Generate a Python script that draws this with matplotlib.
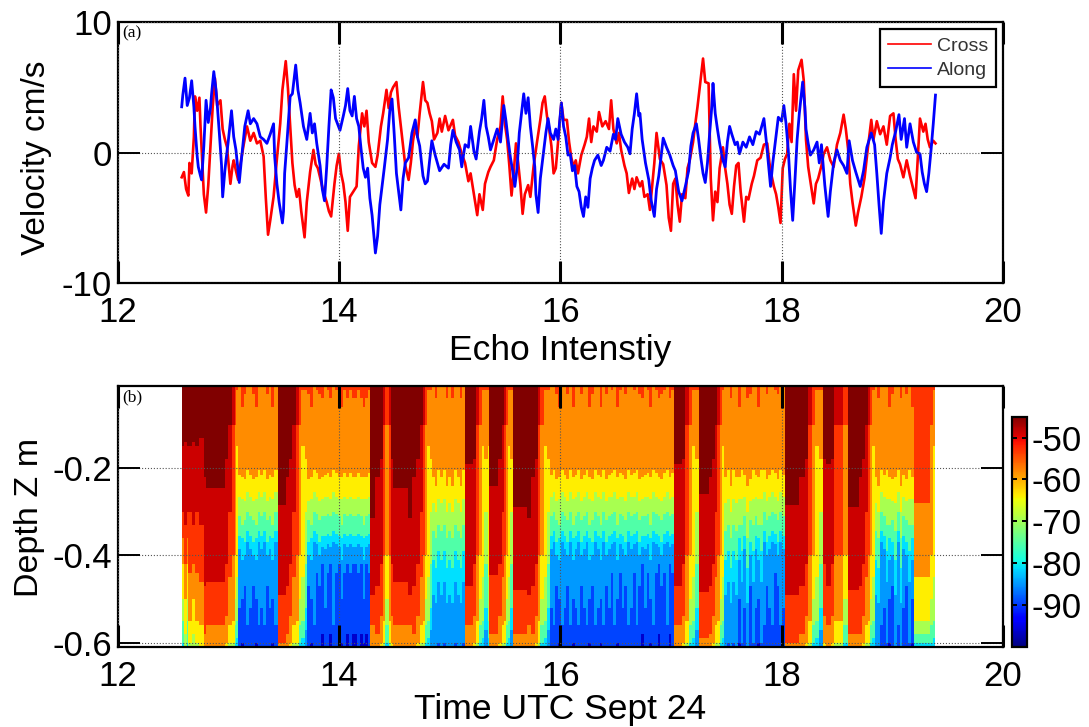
import matplotlib
matplotlib.use('Agg')
import matplotlib.pyplot as plt
from matplotlib.cm import ScalarMappable
from matplotlib.colors import Normalize

plt.rcParams['font.family'] = ['Liberation Sans', 'DejaVu Sans']
plt.rcParams['axes.unicode_minus'] = False

# panel (a), hours and cm/s
cross_t = [12.58,12.60,12.62,12.64,12.65,12.67,12.69,12.70,12.72,12.74,
           12.75,12.77,12.78,12.80,12.82,12.84,12.86,12.88,12.90,12.93,
           12.95,12.97,12.99,13.02,13.04,13.05,13.07,13.09,13.11,13.14,
           13.17,13.20,13.23,13.26,13.29,13.32,13.34,13.36,13.38,13.41,
           13.44,13.47,13.49,13.52,13.54,13.56,13.58,13.60,13.62,13.64,
           13.66,13.69,13.71,13.74,13.77,13.79,13.81,13.83,13.86,13.89,
           13.91,13.93,13.96,13.98,14.00,14.02,14.04,14.06,14.08,14.10,
           14.13,14.16,14.18,14.21,14.23,14.25,14.27,14.30,14.33,14.35,
           14.38,14.40,14.43,14.45,14.47,14.49,14.52,14.54,14.56,14.58,
           14.60,14.63,14.65,14.67,14.69,14.71,14.73,14.76,14.78,14.80,
           14.82,14.84,14.86,14.89,14.91,14.93,14.96,14.99,15.03,15.05,
           15.08,15.11,15.14,15.17,15.19,15.22,15.25,15.27,15.30,15.32,
           15.35,15.37,15.40,15.43,15.46,15.48,15.50,15.52,15.54,15.56,
           15.58,15.60,15.62,15.64,15.66,15.68,15.71,15.73,15.76,15.79,
           15.82,15.84,15.86,15.88,15.90,15.92,15.94,15.96,15.98,16.01,
           16.03,16.06,16.08,16.10,16.12,16.14,16.16,16.19,16.22,16.24,
           16.26,16.28,16.30,16.33,16.35,16.38,16.41,16.44,16.46,16.48,
           16.51,16.53,16.55,16.58,16.60,16.62,16.65,16.67,16.69,16.72,
           16.74,16.76,16.79,16.81,16.83,16.85,16.87,16.90,16.93,16.96,
           16.98,17.00,17.02,17.04,17.06,17.08,17.10,17.13,17.15,17.17,
           17.20,17.22,17.24,17.26,17.29,17.31,17.34,17.35,17.36,17.38,
           17.40,17.42,17.44,17.47,17.49,17.51,17.53,17.55,17.57,17.59,
           17.61,17.63,17.66,17.68,17.70,17.73,17.75,17.78,17.81,17.84,
           17.87,17.89,17.91,17.93,17.95,17.97,17.99,18.01,18.03,18.05,
           18.07,18.09,18.11,18.13,18.15,18.18,18.20,18.22,18.24,18.26,
           18.29,18.31,18.33,18.36,18.38,18.41,18.44,18.47,18.50,18.53,
           18.56,18.58,18.60,18.62,18.64,18.67,18.69,18.72,18.75,18.78,
           18.81,18.83,18.86,18.89,18.92,18.95,18.98,19.01,19.03,19.05,
           19.07,19.10,19.13,19.16,19.19,19.21,19.23,19.25,19.28,19.30,
           19.32,19.34,19.37,19.39]
cross_v = [-1.9,-1.5,-2.8,-3.3,-0.8,-1.6,1.2,4.3,3.2,4.2,
           2.0,-1.5,-3.2,-4.6,-2.5,0.5,3.5,5.7,3.6,4.0,
           1.8,1.0,0.4,-2.4,-1.0,-0.6,-1.4,-2.1,-0.9,0.6,
           2.0,0.9,1.5,0.7,0.9,-0.3,-3.5,-6.3,-5.2,-3.4,
           -0.5,2.2,4.8,7.0,4.9,2.0,-0.8,-2.5,-3.4,-2.8,
           -4.5,-6.5,-3.8,-1.5,0.2,-0.9,-1.2,-1.9,-3.0,-3.8,
           -4.5,-4.9,-2.4,-1.0,-0.1,-1.6,-2.4,-3.8,-6.0,-3.4,
           -3.0,-2.6,0.5,3.0,2.0,3.2,0.8,-0.8,-1.1,-0.2,
           2.0,3.0,4.8,3.4,4.6,5.0,5.4,3.5,2.0,0.5,
           -1.0,-2.1,-0.8,0.9,2.0,1.2,3.0,5.4,4.0,3.8,
           3.0,2.4,1.0,1.5,2.6,1.6,2.8,1.7,2.5,1.3,
           0.8,-0.1,-0.8,-2.2,-1.6,-3.2,-4.8,-3.2,-4.4,-2.4,
           -1.5,-1.1,-0.6,1.0,2.0,4.3,2.2,1.0,-1.0,-3.3,
           -1.5,0.7,-0.8,-2.5,-4.7,-3.2,-2.5,-3.4,-1.0,0.8,
           2.5,3.8,4.3,2.8,1.8,0.5,-1.6,-1.2,0.8,3.8,
           2.5,2.5,0.8,-0.4,-1.1,-0.6,-1.6,-0.2,0.6,1.2,
           2.6,0.8,2.0,1.6,3.1,2.0,2.4,1.8,4.0,1.8,
           0.7,1.5,0.2,-1.0,-1.6,-3.1,-2.0,-2.8,-1.9,-2.6,
           -2.2,-3.4,-3.2,-4.4,-2.6,-0.8,1.5,-0.5,-0.9,-2.5,
           -5.0,-6.0,-2.4,-2.0,-4.0,-5.3,-3.2,-3.5,-1.2,-0.6,
           0.8,2.2,3.5,5.0,7.2,5.4,5.3,1.5,-2.0,-5.2,
           -3.0,-3.8,-1.2,0.4,-1.2,-2.4,-4.0,-4.7,-2.6,-1.0,
           -0.8,-3.0,-5.3,-3.4,-3.6,-2.4,-1.8,-0.6,-0.4,0.6,
           0.7,-0.8,-1.8,-2.6,-3.2,-4.2,-5.4,-1.2,-0.5,-0.1,
           2.2,0.8,6.0,3.2,6.3,7.1,5.5,1.0,-1.1,-2.2,
           -3.9,-2.4,-2.0,-1.0,-0.1,0.4,-0.6,-1.1,0.6,1.5,
           2.9,1.8,0.3,-2.4,-3.8,-5.6,-4.6,-3.4,-1.9,0.4,
           2.5,1.0,2.4,1.4,2.0,0.6,2.8,3.0,1.0,-0.5,
           -0.9,-1.9,-0.6,-1.8,-2.8,-3.5,-0.5,2.6,1.6,2.2,
           1.0,0.4,0.9,0.7]

along_t = [12.58,12.59,12.61,12.63,12.65,12.67,12.69,12.70,12.72,12.73,
           12.75,12.76,12.78,12.80,12.82,12.84,12.85,12.87,12.89,12.90,
           12.92,12.94,12.95,12.97,12.98,13.00,13.03,13.05,13.07,13.10,
           13.12,13.15,13.18,13.20,13.23,13.26,13.29,13.32,13.35,13.38,
           13.41,13.42,13.44,13.46,13.49,13.50,13.51,13.53,13.56,13.58,
           13.61,13.63,13.65,13.68,13.71,13.74,13.76,13.78,13.80,13.83,
           13.85,13.87,13.89,13.91,13.93,13.95,13.97,14.01,14.04,14.06,
           14.08,14.10,14.12,14.14,14.16,14.18,14.20,14.22,14.24,14.26,
           14.28,14.30,14.32,14.33,14.35,14.37,14.39,14.41,14.44,14.46,
           14.48,14.50,14.52,14.54,14.56,14.58,14.60,14.63,14.66,14.69,
           14.71,14.73,14.76,14.78,14.80,14.82,14.84,14.87,14.91,14.95,
           14.99,15.01,15.03,15.06,15.09,15.11,15.14,15.17,15.19,15.22,
           15.24,15.27,15.29,15.31,15.33,15.35,15.37,15.40,15.43,15.46,
           15.49,15.51,15.53,15.55,15.57,15.59,15.61,15.63,15.65,15.67,
           15.69,15.71,15.73,15.75,15.77,15.78,15.80,15.82,15.84,15.87,
           15.89,15.91,15.94,15.96,15.98,16.01,16.03,16.05,16.07,16.09,
           16.11,16.13,16.15,16.17,16.19,16.21,16.23,16.25,16.27,16.29,
           16.31,16.34,16.37,16.39,16.42,16.45,16.48,16.50,16.52,16.55,
           16.58,16.61,16.63,16.65,16.67,16.69,16.71,16.72,16.74,16.77,
           16.80,16.82,16.85,16.87,16.89,16.91,16.93,16.96,16.99,17.02,
           17.04,17.07,17.10,17.13,17.16,17.18,17.20,17.23,17.25,17.27,
           17.29,17.31,17.33,17.35,17.37,17.38,17.40,17.42,17.44,17.47,
           17.49,17.51,17.53,17.55,17.58,17.60,17.62,17.65,17.68,17.71,
           17.74,17.77,17.80,17.84,17.86,17.88,17.90,17.92,17.94,17.97,
           18.00,18.02,18.04,18.06,18.08,18.10,18.12,18.14,18.16,18.19,
           18.21,18.22,18.24,18.26,18.29,18.32,18.34,18.36,18.39,18.42,
           18.44,18.47,18.50,18.53,18.56,18.59,18.61,18.64,18.67,18.71,
           18.74,18.77,18.81,18.84,18.86,18.88,18.90,18.92,18.95,18.98,
           19.00,19.03,19.06,19.08,19.11,19.13,19.16,19.19,19.22,19.25,
           19.27,19.29,19.31,19.33,19.35,19.37,19.39]
along_v = [3.5,4.4,5.7,3.6,4.2,5.5,3.5,2.0,-0.3,-1.1,
           -1.8,-2.1,0.5,4.0,2.3,3.4,4.5,6.2,4.8,3.8,
           1.5,-1.0,-3.4,-1.4,-0.6,0.8,3.2,1.2,0.2,-2.3,
           -0.5,2.0,3.2,2.2,2.6,2.2,1.2,1.0,0.7,1.4,
           2.2,-0.3,-2.4,-3.8,-5.4,-4.5,-1.6,0.7,4.3,4.5,
           6.7,4.8,3.8,2.0,1.0,3.0,1.5,2.2,0.7,-1.0,
           -2.8,-3.7,-1.1,2.0,4.8,4.2,2.6,1.7,2.8,3.6,
           4.9,3.2,2.8,4.3,2.6,2.0,0.3,-1.2,-1.9,-1.2,
           -3.5,-4.8,-6.8,-7.7,-6.4,-4.0,-2.6,-1.2,1.0,3.2,
           4.1,1.4,-1.6,-3.0,-4.4,-2.0,-0.8,-0.4,1.5,2.5,
           1.2,0.5,-1.8,-2.4,-2.2,-0.6,0.9,-0.2,-1.4,-0.9,
           -1.2,0.6,1.7,0.8,0.2,-1.1,0.6,0.4,2.0,0.1,
           -0.5,1.6,2.6,4.0,2.0,1.2,0.2,1.0,1.8,0.8,
           3.6,2.4,0.9,-0.4,-1.4,-2.6,-1.2,1.5,3.0,4.5,
           3.0,4.2,2.0,0.5,-1.1,-3.2,-4.6,-2.0,-0.6,1.5,
           2.6,1.5,1.0,1.8,1.0,3.8,2.0,1.2,-0.2,-0.1,
           -1.4,-1.0,-2.6,-3.0,-4.2,-4.9,-3.4,-4.2,-2.0,-1.2,
           -0.6,-0.2,-1.0,-0.6,0.4,0.1,1.4,1.0,2.6,1.4,
           0.8,0.4,-0.1,1.8,3.0,4.5,2.8,3.0,1.0,-0.8,
           -2.1,-3.6,-4.9,-2.8,-1.8,-0.4,1.1,0.4,-0.2,-1.0,
           -1.4,-3.0,-3.7,-2.6,-1.4,0.5,1.5,2.2,1.0,-0.4,
           -1.6,-2.3,-0.8,1.5,3.6,5.3,3.0,1.8,0.7,-0.6,
           -1.1,0.8,2.0,1.4,0.6,0.8,-0.1,0.8,0.4,1.2,
           0.6,1.6,1.4,2.6,1.0,-0.8,-2.6,-0.8,0.6,2.7,
           2.4,3.6,2.2,0.2,-2.8,-5.2,-2.2,1.0,3.0,5.4,
           3.5,1.8,0.7,-0.2,0.2,0.8,-0.8,0.6,-2.5,-4.9,
           -3.0,-0.8,0.2,-0.6,-1.0,-1.6,0.9,-0.6,-1.5,-2.6,
           -1.4,0.4,1.5,0.6,-1.6,-4.0,-6.2,-3.8,-1.6,-0.4,
           0.6,1.6,2.9,1.0,2.6,0.4,2.2,0.8,0.0,-0.1,
           -1.5,-2.4,-3.0,-1.6,0.2,2.2,4.4]

# panel (b): colour of each 5 dB band, top (strong echo) to bottom (weak echo)
band_colors = ['#800000', '#cc0000', '#ff3300', '#ff8c00', '#ffee00', '#a8ff50',
               '#50ffa8', '#00e0ff', '#0099ff', '#0044ff', '#0000cc']

calm1 = [0, 0, -0.01, -0.215, -0.265, -0.31, -0.355, -0.385, -0.52, -0.62]
calm2 = [0, 0, -0.03, -0.225, -0.275, -0.32, -0.37, -0.40, -0.47, -0.62]
calm3 = [0, 0, 0, -0.205, -0.255, -0.30, -0.345, -0.37, -0.56, -0.62]
calm4 = [0, 0, -0.06, -0.22, -0.27, -0.33, -0.36, -0.41, -0.50, -0.60]
deep1 = [0, 0, -0.02, -0.21, -0.265, -0.305, -0.35, -0.375, -0.44, -0.62]
deep2 = [0, 0, -0.04, -0.22, -0.27, -0.31, -0.355, -0.38, -0.42, -0.58]
pale1 = [0, 0, -0.01, -0.22, -0.28, -0.345, -0.41, -0.49, -0.62, -0.62]
pale2 = [0, 0, -0.04, -0.24, -0.30, -0.36, -0.43, -0.51, -0.62, -0.62]
pale3 = [0, 0, 0, -0.205, -0.27, -0.33, -0.39, -0.46, -0.60, -0.62]
first1 = [-0.15, -0.30, -0.36, -0.42, -0.50, -0.55, -0.60, -0.61, -0.62, -0.62]
first2 = [-0.14, -0.33, -0.42, -0.50, -0.58, -0.62, -0.62, -0.62, -0.62, -0.62]
first3 = [-0.15, -0.30, -0.44, -0.55, -0.60, -0.62, -0.62, -0.62, -0.62, -0.62]
first4 = [-0.13, -0.33, -0.46, -0.56, -0.62, -0.62, -0.62, -0.62, -0.62, -0.62]
plume_a = [-0.245, -0.46, -0.56, -0.62, -0.62, -0.62, -0.62, -0.62, -0.62, -0.62]
plume_b = [-0.284, -0.49, -0.60, -0.62, -0.62, -0.62, -0.62, -0.62, -0.62, -0.62]
plume_c = [-0.315, -0.49, -0.56, -0.62, -0.62, -0.62, -0.62, -0.62, -0.62, -0.62]
plume_d = [-0.19, -0.47, -0.56, -0.61, -0.62, -0.62, -0.62, -0.62, -0.62, -0.62]
plume_e = [-0.24, -0.445, -0.58, -0.62, -0.62, -0.62, -0.62, -0.62, -0.62, -0.62]
plume_f = [-0.29, -0.48, -0.58, -0.62, -0.62, -0.62, -0.62, -0.62, -0.62, -0.62]
plume_g = [-0.26, -0.485, -0.59, -0.62, -0.62, -0.62, -0.62, -0.62, -0.62, -0.62]
side1 = [-0.10, -0.30, -0.45, -0.56, -0.60, -0.62, -0.62, -0.62, -0.62, -0.62]
side2 = [-0.18, -0.42, -0.54, -0.60, -0.62, -0.62, -0.62, -0.62, -0.62, -0.62]
side3 = [-0.22, -0.47, -0.58, -0.62, -0.62, -0.62, -0.62, -0.62, -0.62, -0.62]
edge_ro = [0, -0.10, -0.40, -0.55, -0.60, -0.62, -0.62, -0.62, -0.62, -0.62]
edge_or = [0, 0, -0.10, -0.40, -0.50, -0.56, -0.60, -0.62, -0.62, -0.62]
edge_yel = [0, 0, -0.02, -0.15, -0.45, -0.55, -0.59, -0.61, -0.62, -0.62]
edge_gr = [0, 0, -0.02, -0.18, -0.30, -0.42, -0.52, -0.57, -0.62, -0.62]
tail = [0, 0, -0.28, -0.45, -0.55, -0.58, -0.60, -0.62, -0.62, -0.62]

# one column starts at each time and keeps its profile up to the next one
column_t = [12.585, 12.60, 12.625, 12.64, 12.67, 12.70, 12.74, 12.78, 12.80, 12.97, 13.00, 13.03, 13.06, 13.075,
            13.09, 13.115, 13.14, 13.165, 13.19, 13.215, 13.24, 13.265, 13.29, 13.315, 13.34, 13.365, 13.39, 13.415,
            13.45, 13.52, 13.55, 13.58, 13.61, 13.64, 13.66, 13.69,
            13.715, 13.74, 13.765, 13.79, 13.815, 13.84, 13.865, 13.89, 13.915, 13.94, 13.965, 13.99,
            14.015, 14.04, 14.065, 14.09, 14.115, 14.14, 14.165, 14.19, 14.215, 14.24, 14.265,
            14.28, 14.33, 14.37, 14.40, 14.42, 14.45, 14.47, 14.49, 14.62, 14.66, 14.70, 14.73, 14.76, 14.78, 14.80, 14.82,
            14.84, 14.865, 14.89, 14.915, 14.94, 14.965, 14.99, 15.015, 15.04, 15.065, 15.09, 15.115,
            15.14, 15.21, 15.24, 15.27, 15.29, 15.31, 15.35,
            15.36, 15.44, 15.47, 15.49, 15.51, 15.53, 15.55,
            15.57, 15.70, 15.74, 15.77, 15.80, 15.82, 15.85, 15.88,
            15.905, 15.93, 15.955, 15.98, 16.005, 16.03, 16.055, 16.08, 16.105, 16.13, 16.155, 16.18, 16.205, 16.23, 16.255,
            16.28, 16.305, 16.33, 16.355, 16.38, 16.405, 16.43, 16.455, 16.48, 16.505, 16.53, 16.555, 16.58, 16.605, 16.63,
            16.655, 16.68, 16.705, 16.73, 16.755, 16.78, 16.805, 16.83, 16.855, 16.88, 16.905, 16.93, 16.955, 16.98, 17.005,
            17.03, 17.10, 17.13, 17.16, 17.19, 17.22, 17.25, 17.34, 17.37, 17.40, 17.42, 17.44, 17.46,
            17.48, 17.505, 17.53, 17.555, 17.58, 17.605, 17.63, 17.655, 17.68, 17.705, 17.73,
            17.755, 17.78, 17.805, 17.83, 17.855, 17.88, 17.905, 17.93, 17.955, 17.98, 18.005,
            18.03, 18.16, 18.21, 18.24, 18.27, 18.30, 18.34,
            18.37, 18.40, 18.45, 18.47, 18.51, 18.55,
            18.60, 18.70, 18.73, 18.75, 18.78, 18.80, 18.82,
            18.84, 18.865, 18.89, 18.915, 18.94, 18.965, 18.99, 19.015, 19.04, 19.065, 19.09, 19.115, 19.14, 19.165,
            19.20, 19.34, 19.37]
column_p = [first1, first2, first1, first3, first2, first3, first4, side3, plume_a, side2, side1, edge_ro, edge_or, edge_yel,
            calm1, calm4, calm2, calm3, calm1, calm2, calm4, calm3, calm1, calm3, calm2, calm1, calm4, calm3,
            plume_b, side3, side2, side1, edge_ro, edge_or, edge_yel, edge_gr,
            calm2, calm4, calm3, deep1, calm2, deep2, calm1, deep1, deep2, calm3, deep1, deep2,
            calm4, deep1, deep2, deep1, deep2, deep2, deep1, deep2, calm4, deep2, deep1,
            plume_c, side3, side2, edge_ro, edge_or, edge_ro, side2, plume_a, plume_c, side3, side2, side1, edge_ro, edge_or, edge_yel, edge_gr,
            pale1, pale2, pale3, pale1, pale3, pale2, pale1, pale2, pale3, pale1, pale2, pale3,
            plume_d, side2, edge_ro, edge_or, edge_yel, edge_gr, edge_yel,
            plume_e, side2, side1, edge_ro, edge_or, edge_yel, edge_gr,
            plume_f, plume_c, side3, side2, edge_ro, edge_or, edge_yel, edge_gr,
            calm1, calm3, calm2, calm4, calm3, calm1, calm2, calm3, calm4, calm1, calm3, calm2, calm1, calm3, calm4,
            calm2, calm3, calm1, calm4, calm3, calm2, calm1, deep1, calm3, calm4, deep1, calm1, calm2, calm3, calm1,
            deep1, calm3, calm2, deep2, calm1, deep1, calm4, calm3, deep1, deep2, calm2, deep1, calm3, deep2, deep1,
            plume_d, side2, edge_ro, edge_or, edge_yel, edge_gr, plume_g, side3, side2, side1, edge_ro, edge_or, edge_yel,
            pale1, pale3, pale2, pale3, pale1, calm4, pale3, calm1, pale2, calm2, pale3,
            calm1, calm4, pale3, calm3, calm2, calm1, calm3, deep1, calm2, calm3, calm1,
            plume_b, side3, side2, edge_ro, edge_or, edge_yel, edge_gr,
            side2, plume_d, side2, edge_ro, edge_ro, edge_or,
            plume_f, side3, side2, side1, edge_ro, edge_or, edge_yel,
            pale1, pale2, calm3, calm1, pale3, calm4, calm2, pale1, calm3, pale2, calm1, calm2, pale3, calm4,
            tail, edge_or, edge_yel]
column_end = 19.39

hour_ticks = [12, 14, 16, 18, 20]
depth_ticks = [-0.2, -0.4, -0.6]
cbar_ticks = [-50, -60, -70, -80, -90]

W, H = 1089, 727
fig = plt.figure(figsize=(W / 100, H / 100), dpi=100)


def place(left, top, right, bottom):
    return [left / W, 1 - bottom / H, (right - left) / W, (bottom - top) / H]


def style(ax):
    ax.set_xlim(12, 20)
    ax.set_xticks(hour_ticks)
    ax.tick_params(direction='in', length=16, top=True, right=True, labelsize=25)
    ax.tick_params(axis='x', width=2.2, pad=9)
    ax.tick_params(axis='y', width=1.4, pad=4)
    ax.grid(True, linestyle=':', color='#555555', linewidth=0.8)
    ax.set_axisbelow(False)
    for s in ax.spines.values():
        s.set_linewidth(1.6)


# panel (a)
ax1 = fig.add_axes(place(117.5, 22, 1003, 283))
ax1.plot(cross_t, cross_v, color='#ff0000', linewidth=1.9, label='Cross')
ax1.plot(along_t, along_v, color='#0000ff', linewidth=2.0, label='Along')
style(ax1)
ax1.set_ylim(-10, 10)
ax1.set_yticks([-10, 0, 10])
ax1.set_ylabel('Velocity cm/s', fontsize=24)
ax1.yaxis.set_label_coords(-0.074, 0.48)
ax1.set_xlabel('Echo Intenstiy', fontsize=25.5)
ax1.xaxis.set_label_coords(0.5, -0.195)
ax1.text(0.005, 0.955, '(a)', transform=ax1.transAxes, family='Liberation Serif',
         fontsize=12.5, va='center')
leg = ax1.legend(loc='upper right', bbox_to_anchor=(0.9925, 0.973), borderaxespad=0,
                 fontsize=14, fancybox=False, framealpha=1, edgecolor='black',
                 handlelength=2.2, handletextpad=0.3, borderpad=0.42, labelspacing=0.35)
leg.get_frame().set_linewidth(1.6)
for t in leg.get_texts():
    t.set_color('#333333')
for h in leg.get_lines():
    h.set_linewidth(1.2)

# panel (b)
ax2 = fig.add_axes(place(117.5, 385.7, 1003, 647))
edges = column_t + [column_end]
bottom = -0.62
ax2.fill_between(edges, [0] * len(edges), bottom, step='post', color=band_colors[0], linewidth=0)
for i in range(10):
    bound = [p[i] for p in column_p]
    bound.append(bound[-1])
    ax2.fill_between(edges, bound, bottom, step='post', color=band_colors[i + 1], linewidth=0)
style(ax2)
ax2.set_ylim(-0.61, -0.011)
ax2.set_yticks(depth_ticks)
ax2.set_yticklabels(['-0.2', '-0.4', '-0.6'])
ax2.set_ylabel('Depth Z m', fontsize=24.5)
ax2.yaxis.set_label_coords(-0.082, 0.495)
ax2.set_xlabel('Time UTC Sept 24', fontsize=25.5)
ax2.xaxis.set_label_coords(0.5, -0.175)
ax2.text(0.005, 0.955, '(b)', transform=ax2.transAxes, family='Liberation Serif',
         fontsize=12.5, va='center')

# colour bar
cax = fig.add_axes(place(1011.7, 416.7, 1027, 646.7))
cb = fig.colorbar(ScalarMappable(Normalize(-100, -45), 'jet'), cax=cax)
cb.set_ticks(cbar_ticks)
cb.set_ticklabels(['-50', '-60', '-70', '-80', '-90'])
cb.ax.tick_params(direction='in', length=3.5, width=1.4, left=True, right=True, labelsize=25, pad=3.5)
cb.outline.set_linewidth(1.6)

fig.savefig('out.png', dpi=100)
